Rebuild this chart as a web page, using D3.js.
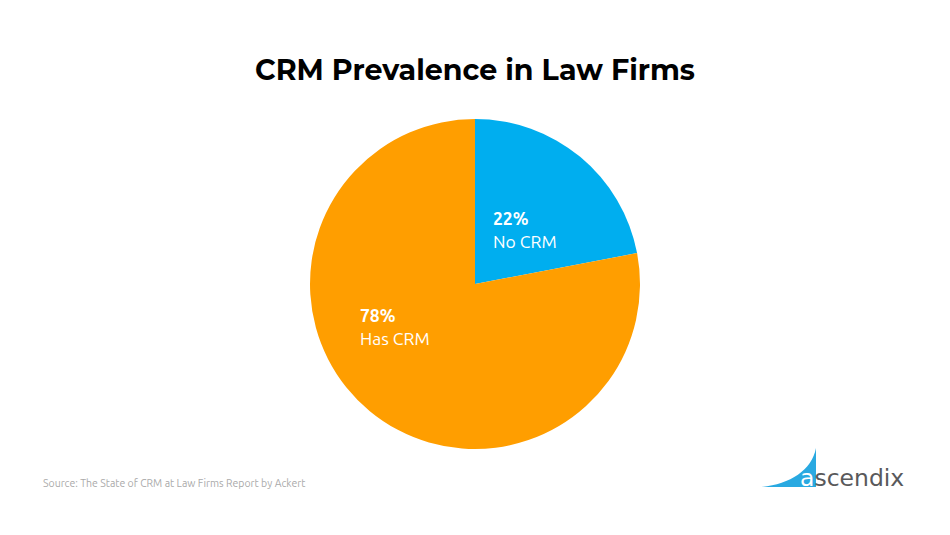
<!DOCTYPE html>
<html>
<head>
<meta charset="utf-8">
<script src="https://cdn.jsdelivr.net/npm/d3@7"></script>
<style>
  body { margin: 0; background: #fff; }
</style>
</head>
<body>
<svg width="950" height="535"></svg>
<script>
const width = 950;
const height = 535;

// Chart data
const categories = ["No CRM", "Has CRM"];
const shares = [22, 78];
const colors = ["#00AEEF", "#FF9E00"];

const svg = d3.select("svg");

svg.append("rect").attr("width", width).attr("height", height).attr("fill", "#fff");

// Title
svg.append("text")
  .attr("x", 475)
  .attr("y", 80)
  .attr("text-anchor", "middle")
  .attr("font-family", "Montserrat, 'Open Sans', sans-serif")
  .attr("font-weight", 700)
  .attr("font-size", 28.5)
  .attr("fill", "#000")
  .text("CRM Prevalence in Law Firms");

// Pie
const cx = 475, cy = 284, r = 165;
const pie = d3.pie().sort(null).value(d => d)(shares);
const arc = d3.arc().innerRadius(0).outerRadius(r);

const g = svg.append("g").attr("transform", `translate(${cx},${cy})`);
g.selectAll("path")
  .data(pie)
  .enter()
  .append("path")
  .attr("d", arc)
  .attr("fill", (d, i) => colors[i]);

// Labels
const labelPos = [[18, -59], [-115, 38]];
pie.forEach((d, i) => {
  const [x, y] = labelPos[i];
  const t = g.append("text")
    .attr("x", x)
    .attr("y", y)
    .attr("font-family", "Ubuntu, 'Open Sans', sans-serif")
    .attr("font-size", 17.5)
    .attr("fill", "#fff");
  t.append("tspan").attr("x", x).attr("font-weight", 700).text(shares[i] + "%");
  t.append("tspan").attr("x", x).attr("dy", 23).text(categories[i]);
});

// Source
svg.append("text")
  .attr("x", 43)
  .attr("y", 487)
  .attr("font-family", "Ubuntu, 'Open Sans', sans-serif")
  .attr("font-size", 10.5)
  .attr("fill", "#aaa")
  .text("Source: The State of CRM at Law Firms Report by Ackert");

// Logo
const logo = svg.append("g");
logo.append("path")
  .attr("d", "M762,487 C790,484 812,470 816,448 L816,487 Z")
  .attr("fill", "#29A9E1");
const logoText = logo.append("text")
  .attr("x", 800)
  .attr("y", 486)
  .attr("font-family", "'DejaVu Sans', sans-serif")
  .attr("font-size", 23.5)
  .attr("fill", "#59595b");
logoText.append("tspan").attr("fill", "#fff").text("a");
logoText.append("tspan").text("scendix");
</script>
</body>
</html>
